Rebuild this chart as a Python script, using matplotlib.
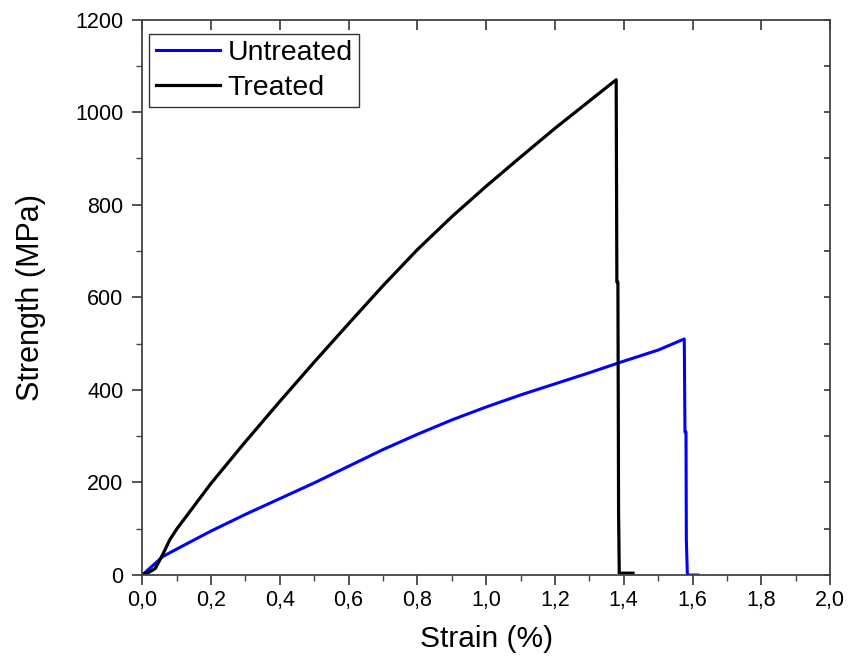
import matplotlib.pyplot as plt
from matplotlib.ticker import MultipleLocator, FuncFormatter

plt.rcParams['font.family'] = ['Liberation Sans', 'DejaVu Sans']

# tensile curves, strain in %, stress in MPa
untreated_strain = [0.0, 0.015, 0.033, 0.06, 0.1, 0.2, 0.3, 0.4, 0.5, 0.6, 0.7, 0.8,
                    0.9, 1.0, 1.1, 1.2, 1.3, 1.4, 1.5, 1.576, 1.578,
                    1.581, 1.582, 1.585, 1.616]
untreated_stress = [0, 10, 22, 40, 56, 95, 131, 165, 199, 235, 271, 304,
                    335, 363, 389, 413, 437, 462, 486, 510, 309,
                    309, 76, 0, 0]

treated_strain = [0.0, 0.015, 0.038, 0.062, 0.08, 0.1, 0.2, 0.3, 0.4, 0.5, 0.6, 0.7,
                  0.8, 0.9, 1.0, 1.1, 1.2, 1.3, 1.378, 1.38,
                  1.383, 1.385, 1.387, 1.427]
treated_stress = [0, 4, 14, 48, 76, 99, 198, 288, 375, 460, 543, 625,
                  703, 774, 840, 903, 965, 1024, 1070, 633,
                  633, 133, 4, 4]

fig = plt.figure(figsize=(8.62, 6.66), dpi=100)
ax = fig.add_axes([0.165, 0.1366, 0.798, 0.834])

ax.plot(untreated_strain, untreated_stress, color='#0000ff', lw=2.2, label='Untreated')
ax.plot(treated_strain, treated_stress, color='black', lw=2.3, label='Treated')

ax.set_xlim(0, 2.0)
ax.set_ylim(0, 1200)
ax.xaxis.set_major_locator(MultipleLocator(0.2))
ax.xaxis.set_minor_locator(MultipleLocator(0.1))
ax.yaxis.set_major_locator(MultipleLocator(200))
ax.yaxis.set_minor_locator(MultipleLocator(100))
ax.xaxis.set_major_formatter(FuncFormatter(lambda v, p: f'{v:.1f}'.replace('.', ',')))

ax.tick_params(which='both', direction='out', top=False, right=False,
               labelsize=15.5, color='#444444')
ax.tick_params(which='major', length=7.5, width=1.3)
ax.tick_params(which='minor', length=4, width=1.0)
ax.tick_params(axis='y', which='major', pad=6)

# inward ticks on top and right edges
ax_top = ax.secondary_xaxis('top')
ax_top.xaxis.set_major_locator(MultipleLocator(0.2))
ax_top.tick_params(direction='in', length=7, width=1.3, labeltop=False, color='#444444')
ax_right = ax.secondary_yaxis('right')
ax_right.yaxis.set_major_locator(MultipleLocator(100))
ax_right.tick_params(direction='in', length=4.5, width=1.3, labelright=False, color='#444444')

for s in ax.spines.values():
    s.set_color('#444444')
    s.set_linewidth(1.3)
for s in list(ax_top.spines.values()) + list(ax_right.spines.values()):
    s.set_visible(False)

ax.set_xlabel('Strain (%)', fontsize=21.5, labelpad=10)
ax.set_ylabel('Strength (MPa)', fontsize=22, labelpad=21)

leg = ax.legend(loc='upper left', bbox_to_anchor=(0.0102, 0.9737), borderaxespad=0,
                fontsize=20.5, fancybox=False, framealpha=1, edgecolor='#333333',
                handlelength=2.25, handletextpad=0.28, borderpad=0.22, labelspacing=0.3)
leg.get_frame().set_linewidth(1.0)

fig.savefig('out.png', dpi=100)
